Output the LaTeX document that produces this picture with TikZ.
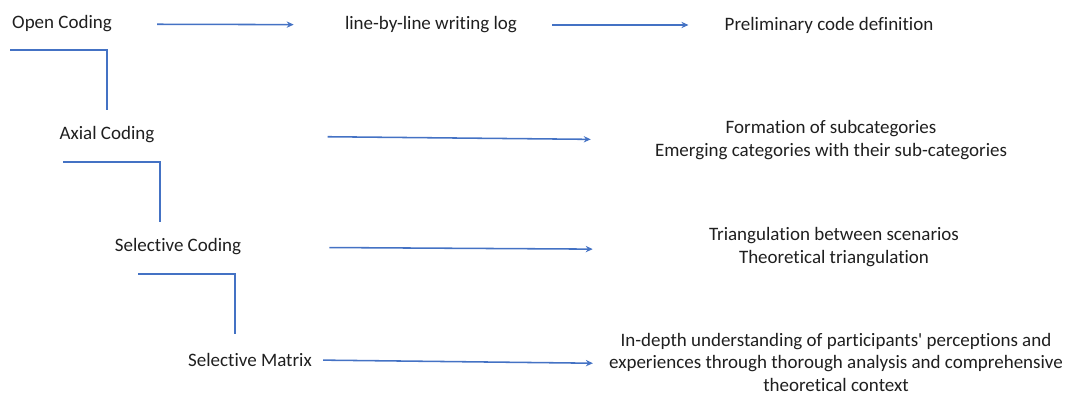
\documentclass[tikz,border=0pt]{standalone}
\usepackage{fontspec}
\setmainfont{Carlito}[Ligatures=NoCommon]
\usetikzlibrary{arrows.meta}
\definecolor{linkblue}{RGB}{68,114,196}
\tikzset{>={Stealth[length=5pt,width=4.5pt]}}
\tikzset{
  stage/.style={inner sep=0pt, text=black!88, font=\fontsize{13.5}{17}\selectfont},
  outcome/.style={stage, align=center},
  flow/.style={->, draw=linkblue, line width=1.1pt},
  link/.style={draw=linkblue, line width=1.2pt},
}

\begin{document}
\begin{tikzpicture}[x=0.025cm,y=-0.025cm]
    \useasboundingbox (0,0) rectangle (1069,394);
    % stages
    \node[stage] (open)   at (62,24)   {Open Coding};
    \node[stage] (axial)  at (107,135) {Axial Coding};
    \node[stage] (selcod) at (178,247) {Selective Coding};
    \node[stage] (selmat) at (250,360) {Selective Matrix};
    % outcomes
    \node[stage]   (logline) at (431,25)  {line-by-line writing log};
    \node[stage]   (prelim)  at (829,25)  {Preliminary code definition};
    \node[outcome] (subcat)  at (831,140) {Formation of subcategories\\Emerging categories with their sub-categories};
    \node[outcome] (triang)  at (834,247) {Triangulation between scenarios\\Theoretical triangulation};
    \node[outcome, font=\fontsize{13.5}{16}\selectfont] (depth) at (836,362)
      {In-depth understanding of participants\textquotesingle{} perceptions and\\experiences through thorough analysis and comprehensive\\theoretical context};
    % arrows
    \draw[flow, shorten <=1.125cm, shorten >=1.275cm] (open) -- (logline);
    \draw[flow, shorten <=0.875cm, shorten >=0.9cm] (logline) -- (prelim);
    \draw[flow, shorten <=4.325cm, shorten >=1.6cm] (axial.east) -- (subcat.west);
    \draw[flow, shorten <=2.2cm, shorten >=2.9cm] (selcod.east) -- ([yshift=-2pt]triang.west);
    \draw[flow, shorten <=0.275cm, shorten >=0.4cm] (selmat.east) -- ([yshift=-1pt]depth.west);
    % elbows between stages
    \coordinate (k1) at (10,50);  \coordinate (k1e) at (107,110);
    \coordinate (k2) at (63,162); \coordinate (k2e) at (160,222);
    \coordinate (k3) at (138,274); \coordinate (k3e) at (235,334);
    \draw[link] (k1) -| (k1e);
    \draw[link] (k2) -| (k2e);
    \draw[link] (k3) -| (k3e);
  \end{tikzpicture}
\end{document}
